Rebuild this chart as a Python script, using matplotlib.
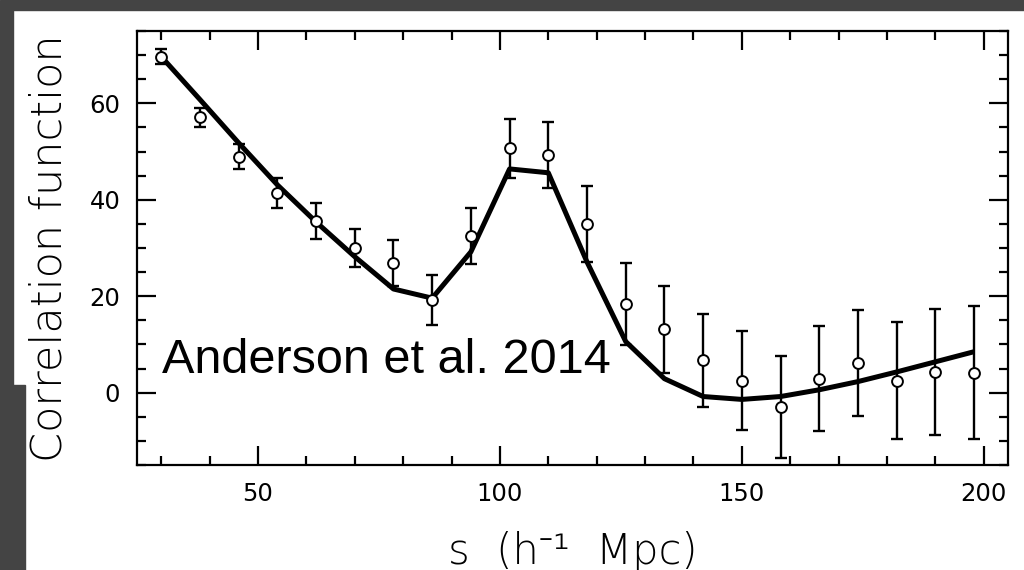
import numpy as np
import matplotlib.pyplot as plt
from matplotlib.patches import Rectangle
from matplotlib.ticker import MultipleLocator

# BAO correlation function: measured points with errors, plus best-fit model
s = [30, 38, 46, 54, 62, 70, 78, 86, 94, 102, 110,
     118, 126, 134, 142, 150, 158, 166, 174, 182, 190, 198]
xi = [69.7, 57.1, 48.9, 41.4, 35.6, 30.0, 26.9, 19.3, 32.5, 50.7, 49.3,
      35.0, 18.4, 13.1, 6.7, 2.5, -3.0, 2.9, 6.2, 2.5, 4.3, 4.1]
xi_err = [1.5, 2.0, 2.6, 3.2, 3.7, 4.0, 4.7, 5.2, 5.8, 6.1, 6.8,
          7.8, 8.5, 9.0, 9.7, 10.2, 10.5, 10.9, 11.0, 12.2, 13.1, 13.8]
model = [69.7, 60.8, 51.8, 43.1, 35.4, 28.2, 21.5, 19.6, 29.2, 46.4, 45.6,
         27.1, 10.6, 2.9, -0.8, -1.4, -0.8, 0.6, 2.3, 4.3, 6.4, 8.5]

# thin DejaVu for the axis titles, Noto Sans covers the superscript minus
thin = dict(family=['DejaVu Sans', 'Noto Sans'], weight=200)

fig = plt.figure(figsize=(10.24, 5.7), dpi=100)
fig.patch.set_facecolor('white')

# dark slide border along the top and left
dark = '#444444'
W, H = 1024, 570
for (x0, y0, w, h) in [(0, H - 10, W, 10), (0, 185, 13, H - 10 - 185), (0, 0, 25, 185)]:
    fig.patches.append(Rectangle((x0 / W, y0 / H), w / W, h / H,
                                 transform=fig.transFigure, color=dark, zorder=0))

ax = fig.add_axes([137 / W, 1 - 465 / H, (1008 - 137) / W, (465 - 31) / H])

ax.errorbar(s, xi, yerr=xi_err, fmt='none', ecolor='black', elinewidth=1.7,
            capsize=4.5, capthick=1.7, zorder=2)
ax.plot(s, model, color='black', lw=3.6, zorder=3, solid_capstyle='butt')
ax.plot(s, xi, 'o', ms=7.8, mfc='white', mec='black', mew=1.4, zorder=4)

ax.set_xlim(25, 205)
ax.set_ylim(-15, 75)
ax.xaxis.set_major_locator(MultipleLocator(50))
ax.xaxis.set_minor_locator(MultipleLocator(10))
ax.yaxis.set_major_locator(MultipleLocator(20))
ax.yaxis.set_minor_locator(MultipleLocator(5))
ax.tick_params(which='both', direction='in', top=True, right=True, width=1.6, color='black')
ax.tick_params(which='major', length=13.5, labelsize=17.5, pad=12)
ax.tick_params(which='minor', length=6.8)
for sp in ax.spines.values():
    sp.set_linewidth(1.6)
for lab in ax.get_xticklabels() + ax.get_yticklabels():
    lab.set_family('DejaVu Sans')
    lab.set_fontweight('normal')

ax.set_xlabel('s  (h⁻¹  Mpc)', fontsize=30, labelpad=18, **thin)
ax.set_ylabel('Correlation function', fontsize=31, labelpad=14, **thin)

ax.text(0.029, 0.212, 'Anderson et al. 2014', transform=ax.transAxes,
        ha='left', va='baseline', fontsize=35, family=['Liberation Sans', 'DejaVu Sans'])

fig.savefig('out.png', dpi=100)
